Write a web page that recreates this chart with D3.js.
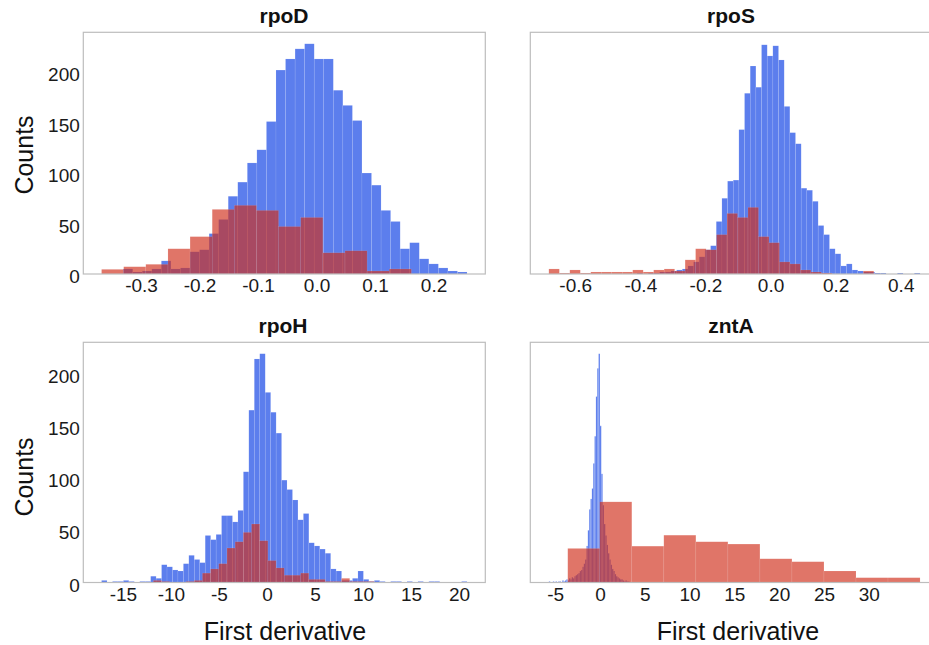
<!DOCTYPE html>
<html>
<head>
<meta charset="utf-8">
<script src="https://cdn.jsdelivr.net/npm/d3@7"></script>
<style>
  html, body { margin: 0; padding: 0; background: #ffffff; }
  svg { display: block; font-family: "Liberation Sans", Arial, Helvetica, sans-serif; }
</style>
</head>
<body>
<svg id="chart" width="929" height="645"></svg>
<script>
// ---- histogram data (bin start, bin width, counts per bin) ----
// rpoD
const rpoDBlueStart = -0.3306, rpoDBlueWidth = 0.01633;
const rpoDBlue = [5, 2, 3, 5, 13, 5, 6, 22, 24, 40, 54, 77, 91, 110, 123, 151, 202, 213,
                  223, 228, 213, 213, 182, 167, 152, 100, 88, 63, 52, 25, 31, 15, 10, 6, 3, 2];
const rpoDRedStart = -0.3675, rpoDRedWidth = 0.03783;
const rpoDRed = [4.6, 7.2, 9.6, 25, 37, 64, 68, 63, 47, 56, 21, 23, 3, 5];

// rpoS
const rpoSBlueStart = -0.4102, rpoSBlueWidth = 0.01739;
const rpoSBlue = [1, 0, 1, 1, 2, 2, 3, 4, 5, 8, 12, 17, 24, 28, 52, 75, 92, 93, 143, 179,
                  206, 185, 227, 216, 226, 212, 166, 140, 129, 85, 83, 72, 48, 39, 25, 20, 8, 10,
                  4, 3, 2, 2, 1, 1, 0, 0, 1, 0, 0, 1];
const rpoSRedStart = -0.681, rpoSRedWidth = 0.0322;
const rpoSRed = [5, 1, 4, 1, 2, 2, 2, 2, 4, 2, 4, 5, 3, 14, 25, 24, 39, 60, 56, 66,
                 37, 31, 12, 10, 4, 2, 1, 0, 0, 0, 3];

// rpoH
const rpoHBlueStart = -17.22, rpoHBlueWidth = 0.568;
const rpoHBlue = [2, 0, 1, 1, 2, 1, 0, 1, 1, 6, 4, 17, 15, 12, 11, 18, 26, 22, 19, 45,
                  41, 46, 64, 64, 58, 69, 106, 165, 214, 219, 182, 163, 143, 98, 89, 79, 60, 66,
                  38, 35, 32, 28, 13, 11, 2, 2, 4, 11, 3, 1, 2, 1, 0, 1, 1, 0, 1, 0,
                  1, 0, 1, 1, 0, 0, 0, 0, 1];
const rpoHRedStart = -11.83, rpoHRedWidth = 0.852;
const rpoHRed = [2, 1, 0, 0, 1, 2, 9, 13, 18, 33, 39, 48, 56, 40, 21, 14, 7, 7, 9, 3,
                 3, 1, 1, 4, 1, 1, 1];

// zntA
const zntABlueStart = -5.70, zntABlueWidth = 0.15;
const zntABlue = [1, 0, 0, 1, 0, 1, 0, 1, 1, 0, 2, 1, 2, 3, 2, 4, 3, 5, 4, 6,
                  7, 8, 9, 11, 12, 15, 18, 22, 35, 50, 70, 80, 90, 114, 140, 178, 205, 219, 150, 104,
                  74, 56, 45, 36, 28, 22, 17, 13, 11, 8, 6, 5, 4, 3, 3, 2, 1, 2, 1, 1];
const zntARedStart = -3.59, zntARedWidth = 3.574;
const zntARed = [32.6, 77.2, 34.8, 45.3, 39, 36.8, 22.7, 19.9, 11, 4.6, 4.6];

// ---- panel titles and tick labels ----
const titles = ["rpoD", "rpoS", "rpoH", "zntA"];
const rpoDTicks = [-0.3, -0.2, -0.1, 0.0, 0.1, 0.2];
const rpoSTicks = [-0.6, -0.4, -0.2, 0.0, 0.2, 0.4];
const rpoHTicks = [-15, -10, -5, 0, 5, 10, 15, 20];
const zntATicks = [-5, 0, 5, 10, 15, 20, 25, 30];
const countTicks = [0, 50, 100, 150, 200];
const yLabel = "Counts";
const xLabel = "First derivative";

// ---- layout ----
const cols = [[83.3, 485.3], [530.3, 938.6]];
const rows = [[32.3, 274], [342.3, 582.5]];
const blueColor = "rgb(92,126,237)";
const redColor = "rgb(208,46,26)";
const redOpacity = 0.66;
const tickFont = 19;

const panels = [
  { title: titles[0], row: 0, col: 0, blue: [rpoDBlueStart, rpoDBlueWidth, rpoDBlue], red: [rpoDRedStart, rpoDRedWidth, rpoDRed], ticks: rpoDTicks, fmt: d3.format(".1f") },
  { title: titles[1], row: 0, col: 1, blue: [rpoSBlueStart, rpoSBlueWidth, rpoSBlue], red: [rpoSRedStart, rpoSRedWidth, rpoSRed], ticks: rpoSTicks, fmt: d3.format(".1f") },
  { title: titles[2], row: 1, col: 0, blue: [rpoHBlueStart, rpoHBlueWidth, rpoHBlue], red: [rpoHRedStart, rpoHRedWidth, rpoHRed], ticks: rpoHTicks, fmt: d3.format("d") },
  { title: titles[3], row: 1, col: 1, blue: [zntABlueStart, zntABlueWidth, zntABlue], red: [zntARedStart, zntARedWidth, zntARed], ticks: zntATicks, fmt: d3.format("d") }
];

// turn (start, width, counts) into bin objects
function toBins([start, width, counts]) {
  return counts.map((c, i) => ({ x0: start + i * width, x1: start + (i + 1) * width, n: c }));
}
panels.forEach(p => { p.blueBins = toBins(p.blue); p.redBins = toBins(p.red); });

// rows share their count axis; axis limits get 5% headroom like the plotting default
const rowMax = [0, 1].map(r => d3.max(panels.filter(p => p.row === r),
  p => d3.max([...p.blueBins, ...p.redBins], b => b.n)));

const hyphen = s => s.replace("\u2212", "-");
const svg = d3.select("#chart");

panels.forEach(p => {
  const [x0, x1] = cols[p.col];
  const [y0, y1] = rows[p.row];
  const all = [...p.blueBins, ...p.redBins];
  const lo = d3.min(all, b => b.x0), hi = d3.max(all, b => b.x1);
  const pad = (hi - lo) * 0.05;
  const x = d3.scaleLinear().domain([lo - pad, hi + pad]).range([x0, x1]);
  const y = d3.scaleLinear().domain([0, rowMax[p.row] * 1.05]).range([y1, y0]);

  const g = svg.append("g");
  const clipId = "clip-" + p.title;
  svg.append("clipPath").attr("id", clipId)
    .append("rect").attr("x", x0).attr("y", y0).attr("width", x1 - x0).attr("height", y1 - y0);
  const plot = g.append("g").attr("clip-path", `url(#${clipId})`);

  const drawBars = (bins, fill, opacity, cls) => plot.append("g").attr("class", cls)
    .selectAll("rect").data(bins.filter(b => b.n > 0)).join("rect")
    .attr("x", b => x(b.x0))
    .attr("width", b => Math.max(0, x(b.x1) - x(b.x0)))
    .attr("y", b => y(b.n))
    .attr("height", b => y(0) - y(b.n))
    .attr("fill", fill)
    .attr("fill-opacity", opacity)
    .attr("stroke", "#ffffff")
    .attr("stroke-opacity", 0.18)
    .attr("stroke-width", 0.5);

  drawBars(p.blueBins, blueColor, 1, "blue");
  drawBars(p.redBins, redColor, redOpacity, "red");

  // frame
  g.append("rect").attr("x", x0).attr("y", y0).attr("width", x1 - x0).attr("height", y1 - y0)
    .attr("fill", "none").attr("stroke", "#bdbdbd").attr("stroke-width", 1.2);

  // x axis labels (no tick marks)
  const xAxis = d3.axisBottom(x).tickValues(p.ticks).tickSize(0).tickPadding(0)
    .tickFormat(d => hyphen(p.fmt(d)));
  const xa = g.append("g").attr("transform", `translate(0,${y1})`).call(xAxis);
  xa.select(".domain").remove();
  xa.selectAll("text").attr("dy", null).attr("y", 18)
    .attr("font-size", tickFont).attr("fill", "#1a1a1a")
    .attr("font-family", "Liberation Sans, Arial, sans-serif");

  // y axis labels only on the left column
  if (p.col === 0) {
    const yAxis = d3.axisLeft(y).tickValues(countTicks).tickSize(0).tickPadding(0);
    const ya = g.append("g").attr("transform", `translate(${x0 - 3.5},0)`).call(yAxis);
    ya.select(".domain").remove();
    ya.selectAll("text").attr("dy", null).attr("y", 8.5)
      .attr("font-size", tickFont).attr("fill", "#1a1a1a")
      .attr("font-family", "Liberation Sans, Arial, sans-serif");
  }
});

// panel titles
const titlePos = [[284, 23], [731, 23], [283, 333], [731, 333]];
panels.forEach((p, i) => {
  svg.append("text").attr("x", titlePos[i][0]).attr("y", titlePos[i][1])
    .attr("text-anchor", "middle").attr("font-size", 21).attr("font-weight", "bold")
    .attr("fill", "#111").text(p.title);
});

// axis titles
[[33, 155], [33, 477]].forEach(([tx, ty]) => {
  svg.append("text").attr("transform", `translate(${tx},${ty}) rotate(-90)`)
    .attr("text-anchor", "middle").attr("font-size", 25).attr("fill", "#111").text(yLabel);
});
[[285, 640], [738, 640]].forEach(([tx, ty]) => {
  svg.append("text").attr("x", tx).attr("y", ty)
    .attr("text-anchor", "middle").attr("font-size", 25).attr("fill", "#111").text(xLabel);
});
</script>
</body>
</html>
